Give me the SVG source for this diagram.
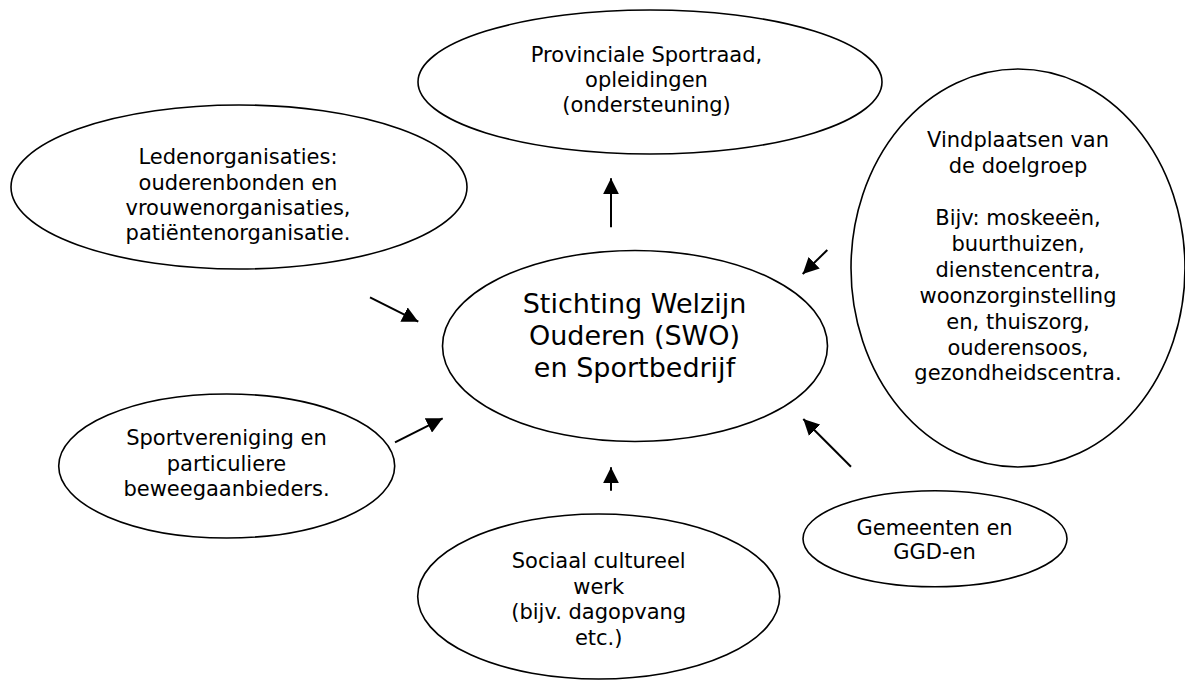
<svg xmlns="http://www.w3.org/2000/svg" width="1185" height="680" viewBox="0 0 1185 680">
<style>
.node ellipse{fill:#fff;stroke:#000;stroke-width:1.6}
.node text{font-family:Verdana,"DejaVu Sans",sans-serif;font-size:21px;fill:#000;text-anchor:middle}
.node text.big{font-size:27px}
.conn line{stroke:#000;stroke-width:2;marker-end:url(#ah)}
</style>
<defs>
<marker id="ah" markerUnits="userSpaceOnUse" markerWidth="16" markerHeight="16" viewBox="0 0 15 15" refX="15" refY="7.5" orient="auto">
<path d="M0,0 L15,7.5 L0,15 z" fill="#000"/>
</marker>
</defs>
<rect width="1185" height="680" fill="#fff"/>
<g id="n-provinciale" class="node">
<ellipse cx="650" cy="82" rx="232" ry="72"/>
<text x="646.5" y="62">Provinciale Sportraad,</text>
<text x="646.5" y="87">opleidingen</text>
<text x="646.5" y="112">(ondersteuning)</text>
</g>
<g id="n-leden" class="node">
<ellipse cx="239" cy="187" rx="228" ry="82"/>
<text x="238" y="164">Ledenorganisaties:</text>
<text x="238" y="190">ouderenbonden en</text>
<text x="238" y="215">vrouwenorganisaties,</text>
<text x="238" y="240">patiëntenorganisatie.</text>
</g>
<g id="n-vindplaatsen" class="node">
<ellipse cx="1018" cy="268" rx="167" ry="199"/>
<text x="1018" y="147">Vindplaatsen van</text>
<text x="1018" y="173">de doelgroep</text>
<text x="1018" y="225">Bijv: moskeeën,</text>
<text x="1018" y="251">buurthuizen,</text>
<text x="1018" y="277">dienstencentra,</text>
<text x="1018" y="303">woonzorginstelling</text>
<text x="1018" y="329">en, thuiszorg,</text>
<text x="1018" y="355">ouderensoos,</text>
<text x="1018" y="380">gezondheidscentra.</text>
</g>
<g id="n-swo" class="node">
<ellipse cx="635" cy="346" rx="192.5" ry="95.5"/>
<text class="big" x="634.5" y="313">Stichting Welzijn</text>
<text class="big" x="634.5" y="345">Ouderen (SWO)</text>
<text class="big" x="634.5" y="377">en Sportbedrijf</text>
</g>
<g id="n-sport" class="node">
<ellipse cx="226.7" cy="466" rx="168" ry="72"/>
<text x="226.5" y="445">Sportvereniging en</text>
<text x="226.5" y="471">particuliere</text>
<text x="226.5" y="496">beweegaanbieders.</text>
</g>
<g id="n-sociaal" class="node">
<ellipse cx="598.7" cy="596.5" rx="181" ry="82.5"/>
<text x="598.7" y="568">Sociaal cultureel</text>
<text x="598.7" y="593.5">werk</text>
<text x="598.7" y="619">(bijv. dagopvang</text>
<text x="598.7" y="644.5">etc.)</text>
</g>
<g id="n-gemeenten" class="node">
<ellipse cx="935" cy="538.7" rx="132" ry="48"/>
<text x="934.6" y="535">Gemeenten en</text>
<text x="934.6" y="559">GGD-en</text>
</g>
<g id="connectors" class="conn">
<line x1="611" y1="227.3" x2="611" y2="178.3"/>
<line x1="370" y1="297.3" x2="418.3" y2="321.7"/>
<line x1="827.3" y1="250" x2="802.7" y2="274"/>
<line x1="395" y1="442.3" x2="442.7" y2="418.3"/>
<line x1="611" y1="490.7" x2="611" y2="467.3"/>
<line x1="851" y1="466.7" x2="803.3" y2="419"/>
</g>
</svg>
